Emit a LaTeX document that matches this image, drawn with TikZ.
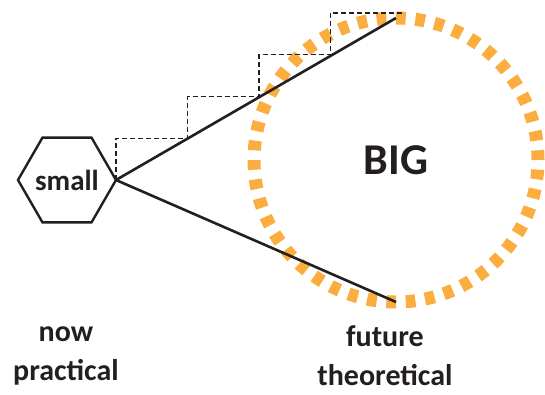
\documentclass[tikz,border=0pt]{standalone}
\usepackage{fontspec}
\setmainfont{Carlito}
\usetikzlibrary{calc,positioning,shapes.geometric}
\definecolor{sbink}{HTML}{231F20}
\definecolor{sborange}{HTML}{FBAE3F}
\tikzset{
  sb text/.style={font=\bfseries, text=sbink},
  sb hex/.style={regular polygon, regular polygon sides=6, draw=sbink, line width=2.4pt,
    minimum size=98pt, inner sep=0pt, outer sep=0pt},
  sb hex text/.style={font=\fontsize{29}{34}\selectfont\bfseries},
  sb ring/.style={circle, draw=sborange, line width=13pt, dash pattern=on 9.7pt off 9.7pt,
    minimum size=284pt, inner sep=0pt, outer sep=0pt, font=\fontsize{44}{50}\selectfont\bfseries},
  sb line/.style={draw=sbink, line width=2.6pt},
  sb stair/.style={draw=sbink, line width=1.3pt, dash pattern=on 5pt off 3pt},
  sb label/.style={font=\fontsize{30}{39}\selectfont\bfseries, align=center}
}

\begin{document}
\begin{tikzpicture}[sb text, x=1pt, y=-1pt]
  \useasboundingbox (0,0) rectangle (545,394);
  \node[sb hex, label={[sb hex text]center:small}] (small) at (67,180) {};
  \node[sb ring] (big) at (396,160) {BIG};
  \coordinate (stairtop) at (402,13);
  \draw[sb stair] (small.east) \foreach \k in {1,...,4}{ |- ($(small.east)!\k/4!(stairtop)$) };
  \draw[sb line] (small.east)--(big.north);
  \draw[sb line] (small.east)--(big.south);
  \node[sb label] (now) at (66,356) {now\\practical};
  \node[sb label] (future) at (385,356) {future\\theoretical};
\end{tikzpicture}
\end{document}
